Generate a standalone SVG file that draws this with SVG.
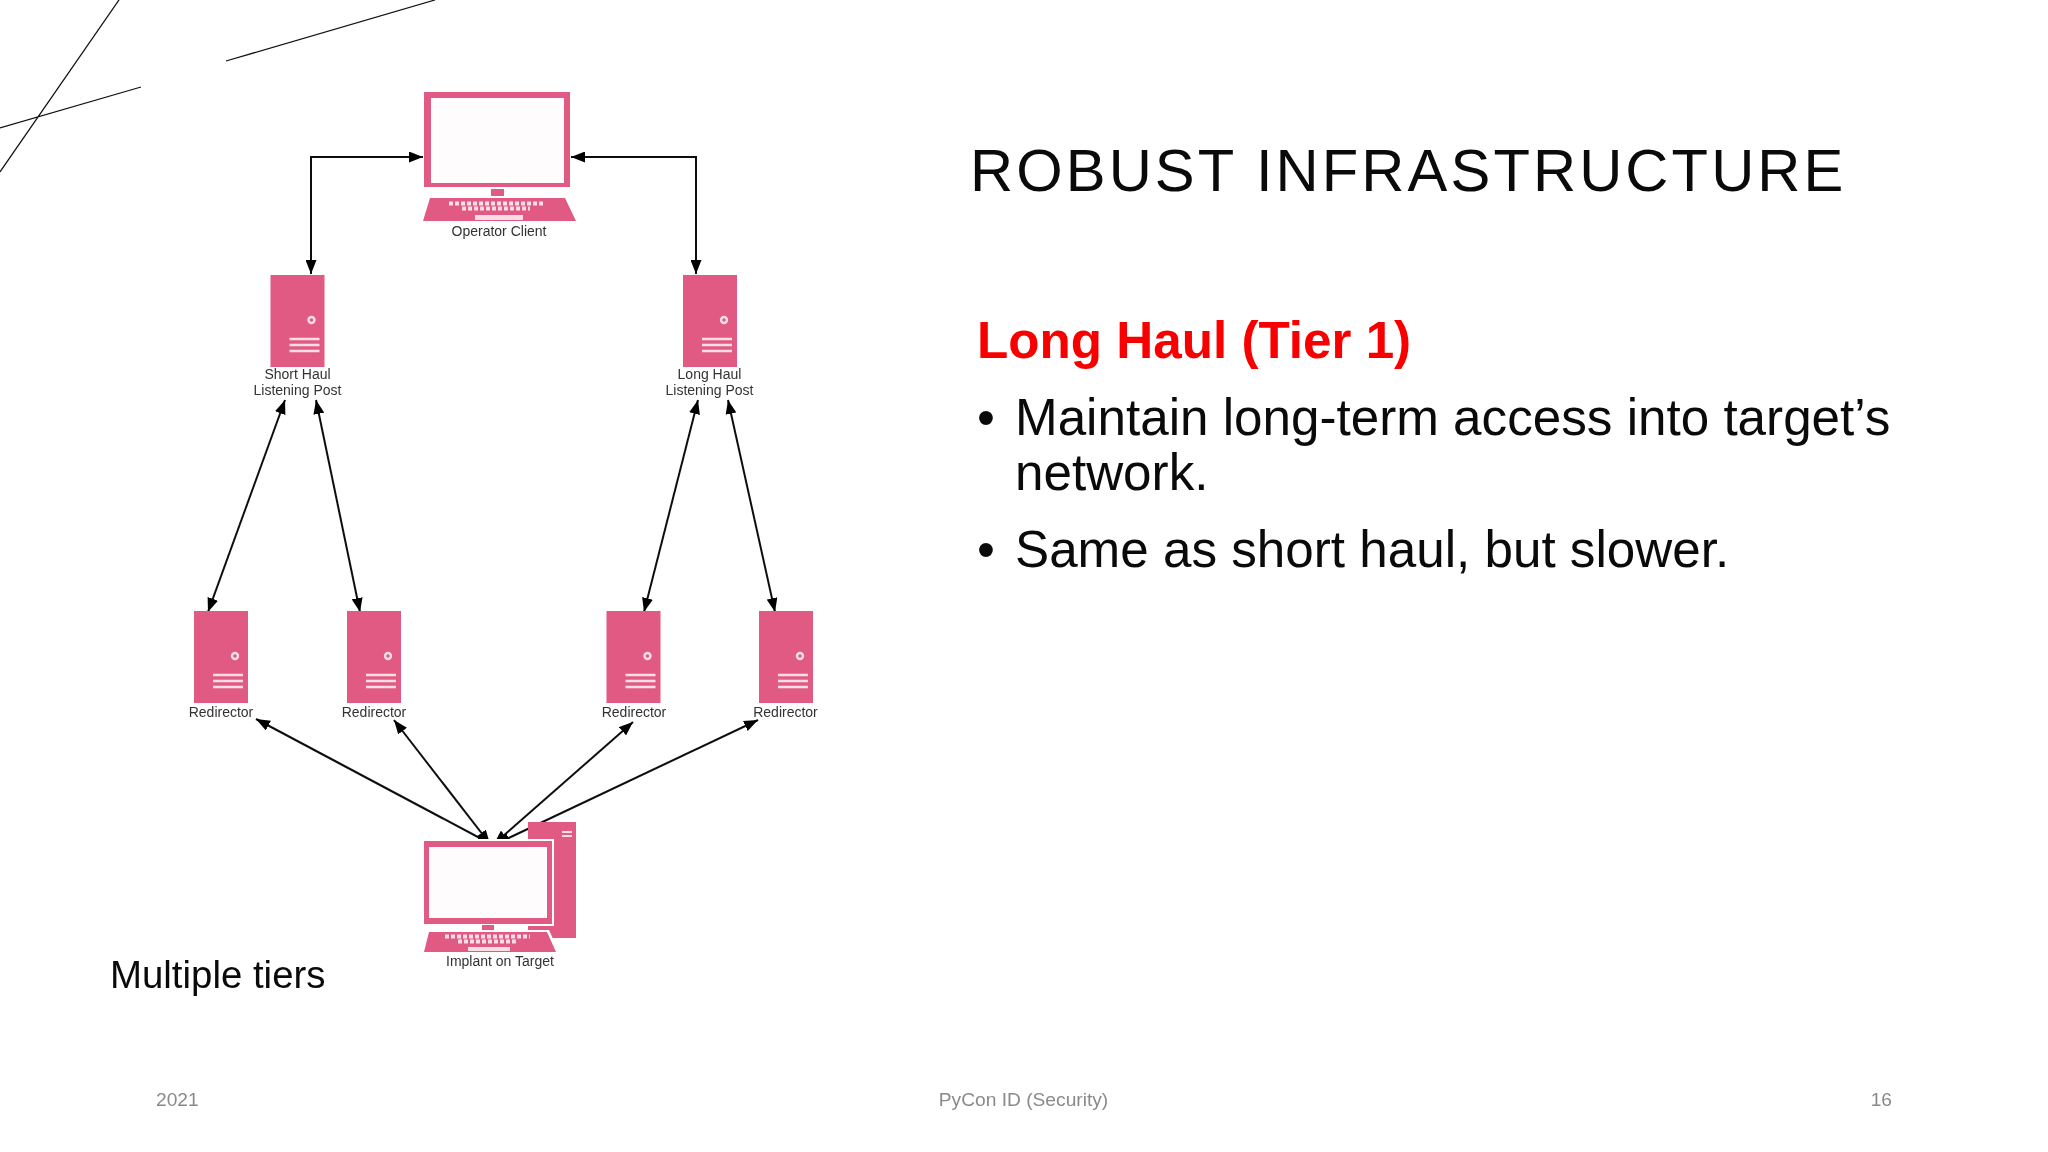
<svg xmlns="http://www.w3.org/2000/svg" width="2048" height="1152" viewBox="0 0 2048 1152">
<style>
text{font-family:"Liberation Sans",Arial,sans-serif}
.pk{fill:#e05a84}
.wh{fill:#fefcfd}
.lb{font-size:14px;fill:#333;text-anchor:middle}
.c{fill:none;stroke:#111;stroke-width:2;marker-start:url(#as);marker-end:url(#ae)}
.d{stroke:#111;stroke-width:1.3;fill:none}
.ft{font-size:19.200px;fill:#8a8a8a}
.b{font-size:51.200px;fill:#0a0a0a}
.key{stroke:#fbdde7;stroke-width:4;stroke-dasharray:4 2;fill:none}
</style>
<defs>
<filter id="soft" x="0" y="0" width="100%" height="100%"><feGaussianBlur stdDeviation="0.45"/></filter>
<marker id="ae" viewBox="0 0 14 11" refX="14" refY="5.500" markerWidth="14" markerHeight="11" markerUnits="userSpaceOnUse" orient="auto"><path d="M0 0L14 5.500L0 11z" fill="#000"/></marker>
<marker id="as" viewBox="0 0 14 11" refX="0" refY="5.500" markerWidth="14" markerHeight="11" markerUnits="userSpaceOnUse" orient="auto"><path d="M14 0L0 5.500L14 11z" fill="#000"/></marker>
<g id="srv">
<rect class="pk" width="54" height="92"/>
<circle cx="41" cy="45" r="3" fill="none" stroke="#fbdde7" stroke-width="2.400"/>
<path d="M19 64H49M19 70H49M19 76H49" stroke="#fbdde7" stroke-width="2.600"/>
</g>
</defs>
<rect width="2048" height="1152" fill="#fff"/>
<g id="decor">
<path class="d" d="M119 0L0 172M141 87L0 128M435 0L226 61"/>
</g>
<g filter="url(#soft)">
<g id="connectors">
<path class="c" d="M423 157H311V274"/>
<path class="c" d="M571 157H696V274"/>
<path class="c" d="M285 400L208 612"/>
<path class="c" d="M316 400L360 612"/>
<path class="c" d="M698 400L644 612"/>
<path class="c" d="M728 400L775 612"/>
<path class="c" d="M256 719L491 844"/>
<path class="c" d="M394 720L490 844"/>
<path class="c" d="M633 722L494 844"/>
<path class="c" d="M758 720L496 844"/>
</g>
<g id="operator">
<rect class="pk" x="424" y="92" width="146" height="95"/>
<rect class="wh" x="431" y="98" width="133" height="85"/>
<rect class="pk" x="491" y="189" width="13" height="7"/>
<path class="pk" d="M430 198H565L576 221H423z"/>
<path class="key" d="M449 203.500H543M462 208.500H530"/>
<rect x="475" y="215" width="48" height="5" fill="#fbdde7"/>
<text class="lb" x="499" y="236">Operator Client</text>
</g>
<g id="shorthaul">
<use href="#srv" x="270.500" y="275"/>
<text class="lb" x="297.500" y="379">Short Haul</text>
<text class="lb" x="297.500" y="395">Listening Post</text>
</g>
<g id="longhaul">
<use href="#srv" x="683" y="275"/>
<text class="lb" x="709.500" y="379">Long Haul</text>
<text class="lb" x="709.500" y="395">Listening Post</text>
</g>
<g id="redir1"><use href="#srv" x="194" y="611"/><text class="lb" x="221" y="717">Redirector</text></g>
<g id="redir2"><use href="#srv" x="347" y="611"/><text class="lb" x="374" y="717">Redirector</text></g>
<g id="redir3"><use href="#srv" x="606.500" y="611"/><text class="lb" x="634" y="717">Redirector</text></g>
<g id="redir4"><use href="#srv" x="759" y="611"/><text class="lb" x="785.500" y="717">Redirector</text></g>
<g id="implant">
<rect class="pk" x="528" y="822" width="48" height="116"/>
<path d="M562 832H572M562 836H572" stroke="#fbdde7" stroke-width="2"/>
<rect x="422" y="839" width="132" height="87" fill="#fff"/>
<rect class="pk" x="424" y="841" width="128" height="83"/>
<rect class="wh" x="429" y="847" width="118" height="71"/>
<rect class="pk" x="482" y="925" width="12" height="5"/>
<path d="M427 930H549L560 954H422z" fill="#fff"/>
<path class="pk" d="M429 932H547L556 952H424z"/>
<path class="key" d="M445 936.500H530M458 941.500H518"/>
<rect x="468" y="947" width="42" height="4" fill="#fbdde7"/>
<text class="lb" x="500" y="966">Implant on Target</text>
</g>
</g>
<text x="970" y="191" font-size="59.700" letter-spacing="3.100" fill="#0a0a0a">ROBUST INFRASTRUCTURE</text>
<text x="977" y="358" font-size="51.200" font-weight="700" fill="#f80000">Long Haul (Tier 1)</text>
<text class="b" x="977" y="435">•</text>
<text class="b" x="1015" y="435">Maintain long-term access into target’s</text>
<text class="b" x="1015" y="490">network.</text>
<text class="b" x="977" y="567">•</text>
<text class="b" x="1015" y="567">Same as short haul, but slower.</text>
<text x="110" y="988" font-size="38.400" fill="#0a0a0a">Multiple tiers</text>
<text class="ft" x="156" y="1106">2021</text>
<text class="ft" x="1023.500" y="1106" text-anchor="middle">PyCon ID (Security)</text>
<text class="ft" x="1892" y="1106" text-anchor="end">16</text>
</svg>
